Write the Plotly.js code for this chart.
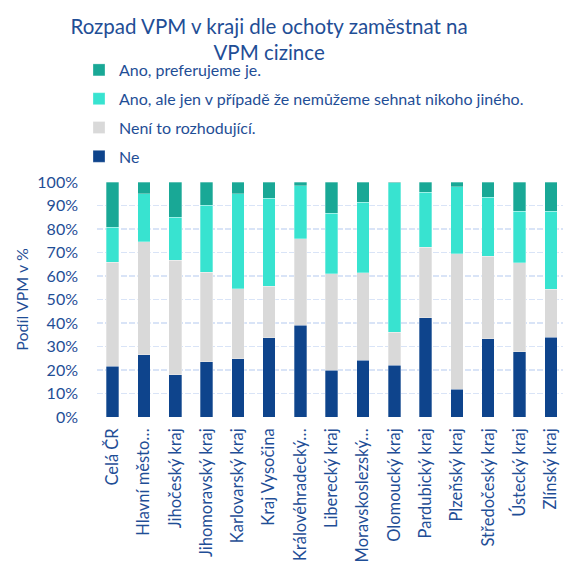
<!DOCTYPE html>
<html>
<head>
<meta charset="utf-8">
<script src="https://cdn.plot.ly/plotly-3.0.1.min.js"></script>
<style>html,body{margin:0;padding:0;background:#fff;}#chart{width:563px;height:561px;}</style>
</head>
<body>
<div id="chart"></div>
<script>
const categories = ["Celá ČR","Hlavní město…","Jihočeský kraj","Jihomoravský kraj","Karlovarský kraj","Kraj Vysočina","Královéhradecký…","Liberecký kraj","Moravskoslezský…","Olomoucký kraj","Pardubický kraj","Plzeňský kraj","Středočeský kraj","Ústecký kraj","Zlínský kraj"];
const ne =        [21.6, 26.4, 17.9, 23.5, 24.8, 33.8, 39.0, 19.9, 24.1, 22.1, 42.3, 11.9, 33.2, 27.7, 33.9];
const neniRozh =  [44.2, 48.2, 48.9, 38.2, 29.8, 21.8, 36.9, 41.0, 37.2, 13.9, 29.9, 57.6, 35.3, 38.0, 20.4];
const anoAle =    [14.9, 20.4, 18.2, 28.4, 40.4, 37.4, 22.4, 25.8, 30.0, 63.6, 23.4, 28.4, 25.0, 21.8, 33.2];
const anoPref =   [19.3,  5.0, 15.0,  9.9,  5.0,  7.0,  1.7, 13.3,  8.7,  0.4,  4.4,  2.1,  6.5, 12.5, 12.5];
const seriesNames = ["Ne","Není to rozhodující.","Ano, ale jen v případě že nemůžeme sehnat nikoho jiného.","Ano, preferujeme je."];
const yTickVals = [0,10,20,30,40,50,60,70,80,90,100];
const yTickText = ["0%","10%","20%","30%","40%","50%","60%","70%","80%","90%","100%"];

const colors = ["#0e448c","#d9d9d9","#38e3d0","#19a896"];
const values = [ne, neniRozh, anoAle, anoPref];
const FONT = "Lato, 'Open Sans', sans-serif";
const TXT = "#1f4e96";

const data = values.map((v, i) => ({
  type: "bar",
  x: categories.map((c, k) => k),
  y: v,
  name: seriesNames[i],
  legendgroup: "g" + i,
  legendrank: 10 - i,
  marker: {color: colors[i], line: {color: "rgba(255,255,255,0.5)", width: 0.6}},
  hoverinfo: "skip"
}));

const PL = 97, PT = 182, PW = 563 - 97, PH = 561 - 182 - 144;

const layout = {
  width: 563, height: 561,
  margin: {l: 97, r: 0, t: 182, b: 144, pad: 0, autoexpand: false},
  paper_bgcolor: "#ffffff", plot_bgcolor: "#ffffff",
  barmode: "stack",
  bargap: 0.6,
  font: {family: FONT, color: TXT, size: 16},
  title: {
    text: "Rozpad VPM v kraji dle ochoty zaměstnat na<br>VPM cizince",
    font: {family: FONT, size: 20.5, color: TXT},
    x: 0.478, xanchor: "center", xref: "container",
    y: 0.94, yanchor: "top", yref: "container"
  },
  showlegend: true,
  legend: {
    traceorder: "grouped",
    tracegroupgap: 5,
    x: (79 - PL) / PW, xanchor: "left", xref: "paper",
    y: (PT + PH - 53) / PH, yanchor: "top", yref: "paper",
    font: {family: FONT, size: 16, color: TXT},
    bgcolor: "rgba(0,0,0,0)",
    itemclick: false
  },
  xaxis: {
    range: [-0.5, 14.39],
    automargin: false,
    tickmode: "array",
    tickvals: categories.map((c, k) => k),
    ticktext: categories,
    tickangle: -90,
    ticks: "",
    ticklabelstandoff: 7,
    showgrid: false, zeroline: false, showline: false,
    tickfont: {family: FONT, size: 16.5, color: TXT},
    fixedrange: true
  },
  yaxis: {
    range: [0, 100],
    automargin: false,
    tickmode: "array",
    tickvals: yTickVals,
    ticktext: yTickText,
    showgrid: true,
    gridcolor: "#d9e4f7",
    gridwidth: 1.6,
    griddash: "6px,2px",
    zeroline: false,
    showline: false,
    ticks: "",
    ticklabelstandoff: 18,
    tickfont: {family: FONT, size: 16, color: TXT},
    title: {text: "Podíl VPM v %", font: {family: FONT, size: 16, color: TXT}, standoff: 4},
    fixedrange: true
  }
};

Plotly.newPlot("chart", data, layout, {displayModeBar: false, staticPlot: true});
</script>
</body>
</html>
